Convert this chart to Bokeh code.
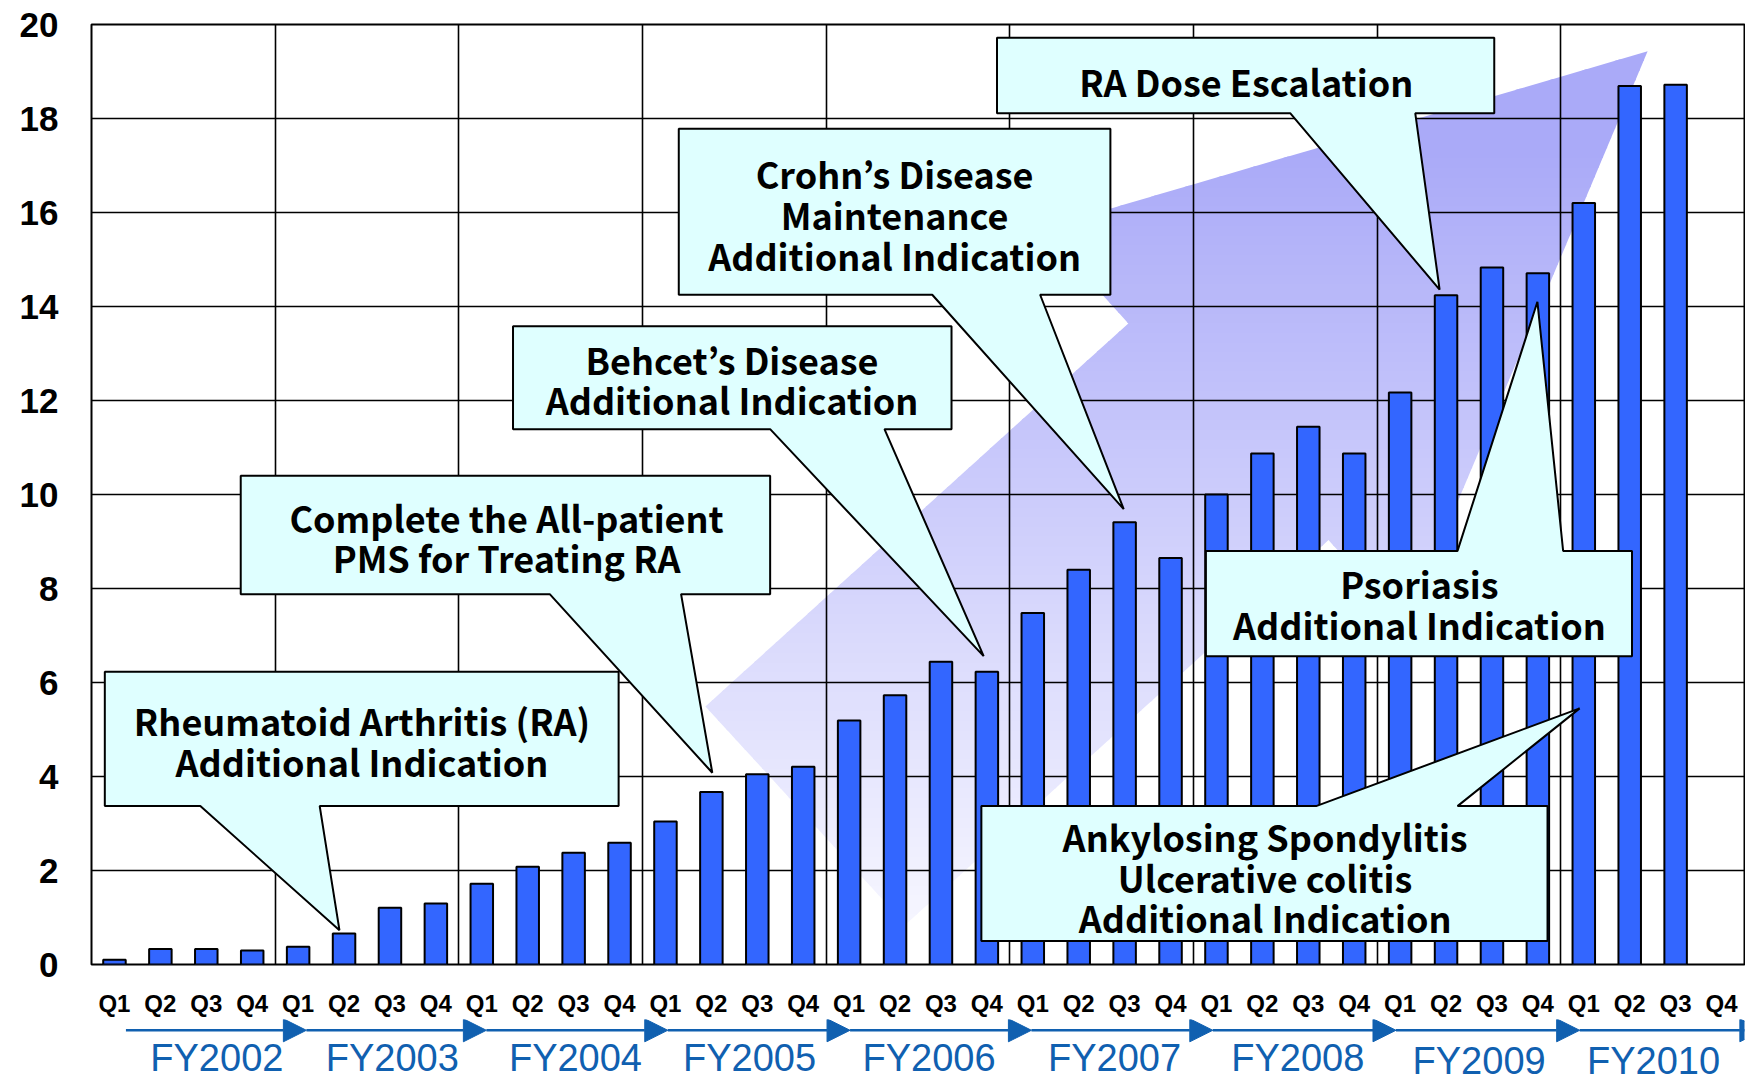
import numpy as np
from bokeh.plotting import figure
from bokeh.layouts import column
from bokeh.models import (Range1d, FixedTicker, ColumnDataSource, Arrow, NormalHead)
from bokeh.core.properties import value
from bokeh.embed import file_html
from bokeh.resources import INLINE

# ---------------- data ----------------
fiscal_years = ["FY2002", "FY2003", "FY2004", "FY2005", "FY2006",
                "FY2007", "FY2008", "FY2009", "FY2010"]
quarter_names = ["Q1", "Q2", "Q3", "Q4"]
quarterly_values = [0.10, 0.33, 0.33, 0.30,
                    0.38, 0.66, 1.21, 1.30,
                    1.72, 2.08, 2.38, 2.59,
                    3.04, 3.67, 4.05, 4.21,
                    5.19, 5.73, 6.44, 6.23,
                    7.48, 8.40, 9.41, 8.65,
                    10.00, 10.87, 11.44, 10.87,
                    12.17, 14.24, 14.83, 14.71,
                    16.20, 18.69, 18.72]          # FY2010 Q4 not yet reported
y_ticks = [0, 2, 4, 6, 8, 10, 12, 14, 16, 18, 20]

# ---------------- callout annotations (layout) ----------------
callout_lines = [
    ["Rheumatoid Arthritis (RA)", "Additional Indication"],
    ["Complete the All-patient", "PMS for Treating RA"],
    ["Behcet\u2019s Disease", "Additional Indication"],
    ["Crohn\u2019s Disease", "Maintenance", "Additional Indication"],
    ["RA Dose Escalation"],
    ["Psoriasis", "Additional Indication"],
    ["Ankylosing Spondylitis", "Ulcerative colitis", "Additional Indication"],
]
# box: x0, x1, y_top, y_bottom
callout_box = [(-0.21, 10.98, 6.23, 3.37), (2.75, 14.28, 10.40, 7.88),
               (8.68, 18.23, 13.58, 11.39), (12.29, 21.69, 17.78, 14.25),
               (19.22, 30.05, 19.72, 18.11), (23.77, 33.05, 8.80, 6.56),
               (18.88, 31.21, 3.37, 0.50)]
# pointer: side, base x0, base x1, tip x, tip y
callout_pointer = [("bottom", 1.87, 4.47, 4.90, 0.73), ("bottom", 9.48, 12.34, 13.02, 4.08),
                   ("bottom", 14.28, 16.77, 18.93, 6.56), ("bottom", 17.81, 20.16, 21.98, 9.69),
                   ("bottom", 25.61, 28.33, 28.86, 14.36), ("top", 29.25, 31.55, 30.99, 14.10),
                   ("top", 26.17, 29.25, 31.91, 5.45)]
callout_text_x = [5.39, 8.54, 13.45, 16.99, 24.65, 28.42, 25.06]
callout_text_y = [[5.21, 4.34], [9.53, 8.68], [12.88, 12.03], [16.84, 15.97, 15.09],
                  [18.80], [8.11, 7.24], [2.74, 1.86, 1.01]]

# decorative growth arrow outline (background)
growth_arrow = [(33.39, 19.43), (20.21, 15.66), (22.08, 13.64), (12.87, 5.49),
                (17.23, 0.85), (26.44, 9.03), (28.12, 7.22)]

# fiscal-year timeline (layout, in quarter-index units)
fy_arrow_end = [4.18, 8.10, 12.05, 16.02, 19.97, 23.92, 27.91, 31.91, 35.90]
fy_label_x = [2.23, 6.05, 10.04, 13.83, 17.74, 21.78, 25.77, 29.72, 33.52]

FONT = "Noto Sans CJK JP"
AXFONT = "Liberation Sans"
BLUE = "#1060b0"
W = 1745
n_q = len(fiscal_years) * 4
x_range = Range1d(-0.5, n_q - 0.5)

p = figure(width=W, height=986,
           x_range=x_range, y_range=Range1d(0, 20),
           output_backend="svg", toolbar_location=None,
           x_axis_location=None,
           min_border_left=91, min_border_right=1, min_border_top=24,
           min_border_bottom=22)
p.title.visible = False
p.outline_line_color = "black"
p.outline_line_width = 2
p.background_fill_color = "white"
p.border_fill_color = "white"

# ---------------- gradient background arrow ----------------
def clip_slab(poly, lo, hi):
    def clip_half(pts, keep, y0):
        out = []
        for i in range(len(pts)):
            cur, prev = pts[i], pts[i - 1]
            def ix(a, b):
                t = (y0 - a[1]) / (b[1] - a[1])
                return (a[0] + t * (b[0] - a[0]), y0)
            if keep(cur):
                if not keep(prev):
                    out.append(ix(prev, cur))
                out.append(cur)
            elif keep(prev):
                out.append(ix(prev, cur))
        return out
    pts = clip_half(poly, lambda q: q[1] >= lo, lo)
    if pts:
        pts = clip_half(pts, lambda q: q[1] <= hi, hi)
    return pts

ys_all = [v[1] for v in growth_arrow]
edges = np.linspace(min(ys_all), max(ys_all), 91)
bx, by, bc = [], [], []
for lo, hi in zip(edges[:-1], edges[1:]):
    pts = clip_slab(growth_arrow, lo, hi + 0.03)
    if len(pts) < 3:
        continue
    mid = 0.5 * (lo + hi)
    t = min(max((17.3 - mid) / 16.9, 0.0), 1.0)
    r = int(round(170 + 78 * t)); b = int(round(248 + 7 * t))
    bx.append([q[0] for q in pts]); by.append([q[1] for q in pts])
    bc.append("#%02x%02x%02x" % (r, r, b))
p.patches(bx, by, fill_color=bc, line_color=None, level="image")

# ---------------- grid ----------------
p.xgrid.ticker = FixedTicker(ticks=[4 * k - 0.5 for k in range(1, len(fiscal_years))])
p.ygrid.ticker = FixedTicker(ticks=y_ticks[1:-1])
p.xgrid.grid_line_color = "black"
p.ygrid.grid_line_color = "black"
p.xgrid.grid_line_width = 1.6
p.ygrid.grid_line_width = 1.6

# ---------------- bars ----------------
bar_x = list(range(len(quarterly_values)))
src = ColumnDataSource(dict(x=bar_x, top=quarterly_values))
p.vbar(x="x", top="top", width=0.49, source=src, fill_color="#3366FF",
       line_color="black", line_width=2)

# ---------------- callouts ----------------
cxs, cys = [], []
for (x0, x1, yt, yb), (side, b0, b1, tx, ty) in zip(callout_box, callout_pointer):
    if side == "bottom":
        xs = [x0, x1, x1, b1, tx, b0, x0]
        ys = [yt, yt, yb, yb, ty, yb, yb]
    else:
        xs = [x0, b0, tx, b1, x1, x1, x0]
        ys = [yt, yt, ty, yt, yt, yb, yb]
    cxs.append(xs); cys.append(ys)
p.patches(cxs, cys, fill_color="#DFFFFF", line_color="black", line_width=2)

tx_, ty_, tt_ = [], [], []
for lines, cx, lys in zip(callout_lines, callout_text_x, callout_text_y):
    for s, yy in zip(lines, lys):
        tx_.append(cx); ty_.append(yy); tt_.append(s)
p.text(tx_, ty_, text=tt_, text_font=value(FONT), text_font_size="36px",
       text_font_style="bold", text_align="center", text_baseline="middle",
       text_color="black")

# ---------------- y axis ----------------
p.yaxis.ticker = FixedTicker(ticks=y_ticks)
p.yaxis.major_label_text_font = AXFONT
p.yaxis.major_label_text_font_size = "35px"
p.yaxis.major_label_text_font_style = "bold"
p.yaxis.major_label_text_color = "black"
p.yaxis.major_label_standoff = 27
p.yaxis.major_tick_line_color = None
p.yaxis.minor_tick_line_color = None
p.yaxis.axis_line_color = None

# ---------------- quarter axis + fiscal-year timeline below ----------------
p2 = figure(width=W, height=95, x_range=x_range, y_range=Range1d(69, 0),
            output_backend="svg", toolbar_location=None,
            x_axis_location="above", y_axis_location=None,
            min_border_left=91, min_border_right=1, min_border_top=26,
            min_border_bottom=0)
p2.title.visible = False
p2.outline_line_color = None
p2.xgrid.visible = False
p2.ygrid.visible = False
p2.border_fill_color = "white"
p2.background_fill_color = "white"

p2.xaxis.ticker = FixedTicker(ticks=list(range(n_q)))
p2.xaxis.major_label_overrides = {i: quarter_names[i % 4] for i in range(n_q)}
p2.xaxis.major_label_text_font = AXFONT
p2.xaxis.major_label_text_font_size = "24px"
p2.xaxis.major_label_text_font_style = "bold"
p2.xaxis.major_label_text_color = "black"
p2.xaxis.major_label_standoff = -3
p2.xaxis.major_tick_line_color = None
p2.xaxis.minor_tick_line_color = None
p2.xaxis.axis_line_color = None

arrow_y = 12
for k in range(len(fiscal_years)):
    xs0 = 0.25 if k == 0 else fy_arrow_end[k - 1]
    p2.add_layout(Arrow(x_start=xs0, y_start=arrow_y, x_end=fy_arrow_end[k], y_end=arrow_y,
                        line_color=BLUE, line_width=2.5,
                        end=NormalHead(size=23, fill_color=BLUE, line_color=BLUE)))
fy_src = ColumnDataSource(dict(
    x=fy_label_x,
    y=[43] * 7 + [46, 46],
    text=fiscal_years))
p2.text(x="x", y="y", text="text", source=fy_src,
        text_font=value(AXFONT), text_font_size="38px",
        text_color=BLUE, text_align="center", text_baseline="middle")

layout = column(p, p2, spacing=0)
open("out.html", "w").write(file_html(layout, INLINE))
